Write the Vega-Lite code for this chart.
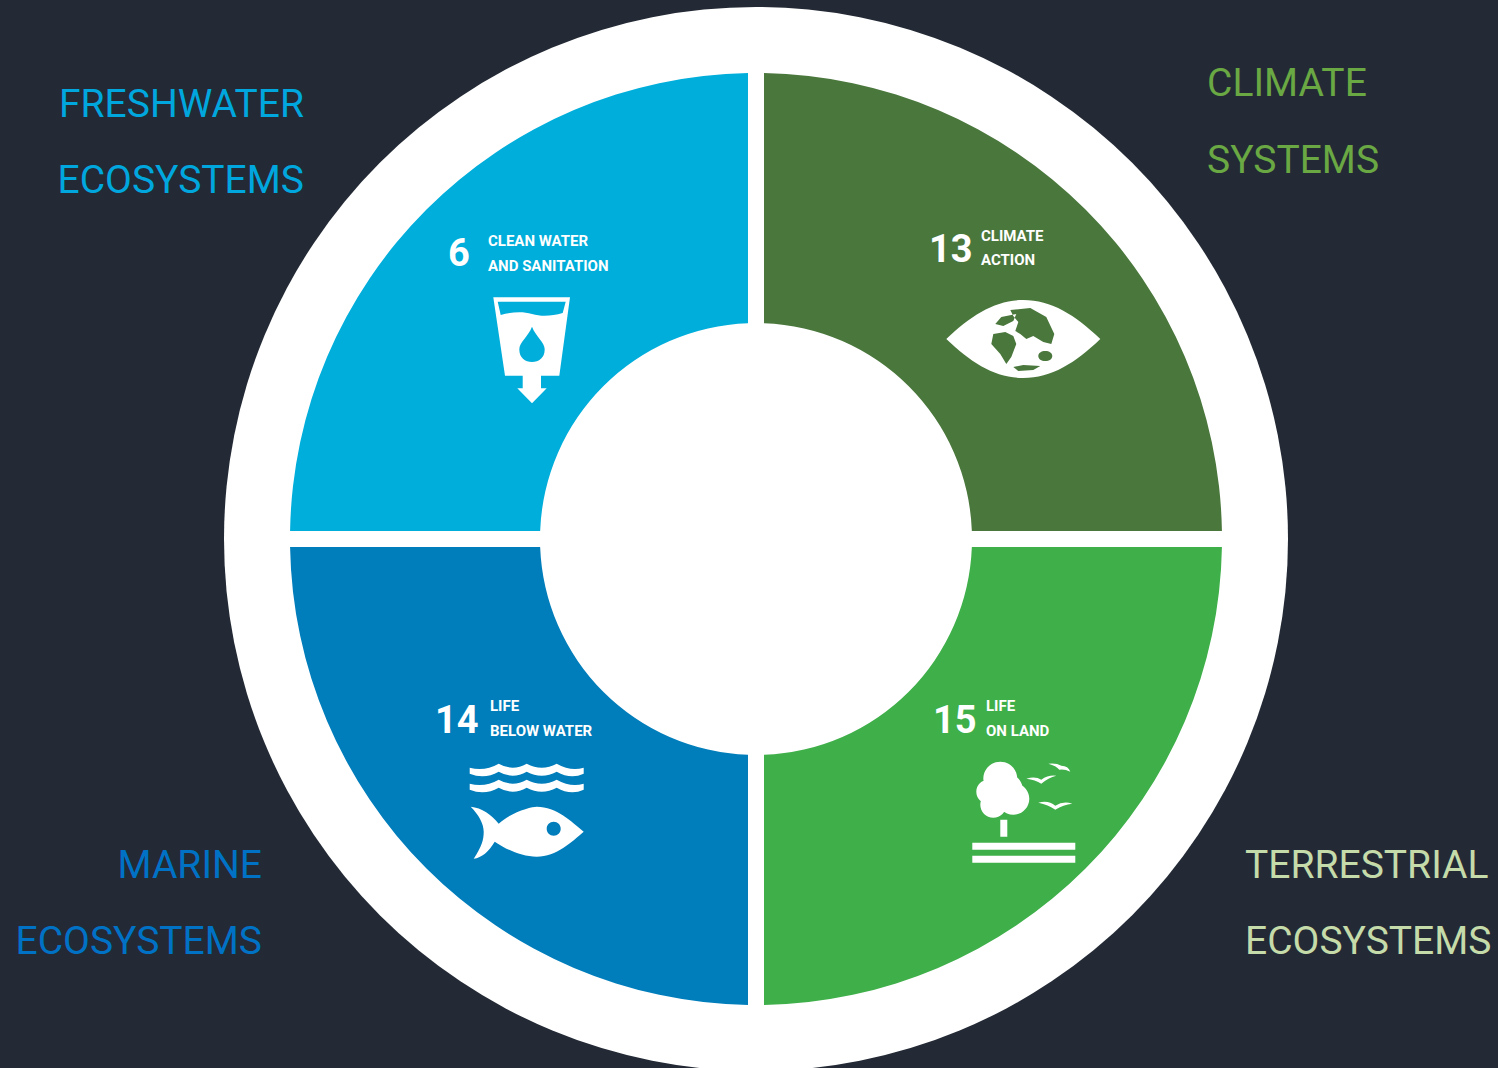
{
"$schema":"https://vega.github.io/schema/vega-lite/v6.json",
"width":1484,"height":1058,"autosize":"none",
"padding":{"left":14,"top":10,"right":0,"bottom":0},
"background":"#232a35",
"config":{"view":{"stroke":null},"axis":{"domain":false,"grid":false,"ticks":false,"labels":false,"title":null}},
"resolve":{"scale":{"color":"independent"}},
"layer":[
{"data":{"values":[{"part":"disc","value":100}]},
 "mark":{"type":"arc","outerRadius":532,"innerRadius":0,"color":"#ffffff"},
 "encoding":{"theta":{"field":"value","type":"quantitative","stack":true}}},
{"data":{"values":[
 {"goal":"Climate systems","rank":1,"value":25},
 {"goal":"Terrestrial ecosystems","rank":2,"value":25},
 {"goal":"Marine ecosystems","rank":3,"value":25},
 {"goal":"Freshwater ecosystems","rank":4,"value":25}]},
 "mark":{"type":"arc","outerRadius":466,"innerRadius":216,"padAngle":0.0312},
 "encoding":{
  "theta":{"field":"value","type":"quantitative","stack":true},
  "order":{"field":"rank","type":"ordinal"},
  "color":{"field":"goal","type":"nominal","legend":null,"scale":{"domain":["Climate systems","Terrestrial ecosystems","Marine ecosystems","Freshwater ecosystems"],"range":["#4a773c","#3eaf49","#007dbb","#00aedb"]}}}},
{"data":{"values":[
 {"icon":"cup","x":532,"y":350},
 {"icon":"eye","x":1023.3,"y":339},
 {"icon":"fish","x":526.7,"y":831.7},
 {"icon":"tree","x":1023.3,"y":811.7}]},
 "mark":{"type":"point","filled":true,"size":4,"opacity":1,"color":"#ffffff","strokeWidth":0},
 "encoding":{
  "x":{"field":"x","type":"quantitative","axis":null,"scale":{"domain":[14,1498],"nice":false,"zero":false}},
  "y":{"field":"y","type":"quantitative","axis":null,"scale":{"domain":[10,1068],"range":[0,1058],"nice":false,"zero":false}},
  "shape":{"field":"icon","type":"nominal","legend":null,"scale":{"domain":["cup","eye","fish","tree"],"range":[
   "M-38.7,-52.7 L38,-52.7 L27.3,25.7 L9,25.7 L9,38.3 L14.7,38.3 L0,53.3 L-14.7,38.3 L-9.3,38.3 L-9.3,25.7 L-27,25.7 Z M-34.3,-48.3 L-31.3,-35 C-20,-38 -10,-39 0,-36 C10,-33 20,-34 30.7,-37 L33.7,-48.3 Z M0,-23.3 C-4,-13 -12.7,-8 -12.7,-0.7 C-12.7,8 -7,12 0,12 C7,12 12.7,8 12.7,-0.7 C12.7,-8 4,-13 0,-23.3 Z",
   "M-77,0 C-52,-24 -28,-39 0,-39 C28,-39 52,-24 77,0 C52,24 28,39 0,39 C-28,39 -52,24 -77,0 Z M-10,-23 L-5,-17 L-8,-8 L-3,-5 L3,0 L10,-3 L20,3 L28,5 L31,-5 L23,-22 L7,-31 L-13,-29 Z M-30,-5 L-32,5 L-23,15 L-17,25 L-12,18 L-7,5 L-10,-3 L-18,-7 Z M-20,-13 L-10,-18 L-7,-25 L-22,-22 L-28,-15 Z M15,17 C15,20 18,22 22,22 C26,22 29,20 29,17 C29,14 26,12 22,12 C18,12 15,14 15,17 Z M-5,32 L10,31 L17,27 L0,26 L-10,28 Z",
   "M-56,-25 C-45,-24 -35,-17 -28,-8 C-15,-20 5,-25 10,-25 C30,-25 45,-10 57,0 C45,10 30,25 10,25 C-5,25 -20,18 -32,10 C-38,20 -45,26 -53,27 C-45,15 -43,8 -43,0 C-43,-8 -48,-17 -56,-25 Z M20,-3 C20,1 23,4 27,4 C31,4 34,1 34,-3 C34,-7 31,-10 27,-10 C23,-10 20,-7 20,-3 Z M-57,-64 Q-42,-60 -28,-68 Q-14,-60 0,-68 Q15,-60 30,-68 Q44,-60 57,-64 L57,-58 Q44,-52 30,-60 Q15,-52 0,-60 Q-14,-52 -28,-60 Q-42,-52 -57,-58 Z M-57,-48 Q-42,-44 -28,-52 Q-14,-44 0,-52 Q15,-44 30,-52 Q44,-44 57,-48 L57,-42 Q44,-36 30,-44 Q15,-36 0,-44 Q-14,-36 -28,-44 Q-42,-36 -57,-42 Z",
   "M-40,-33 A17,17 0 1 1 -6,-33 A17,17 0 1 1 -40,-33 Z M-47,-20 A12,12 0 1 1 -23,-20 A12,12 0 1 1 -47,-20 Z M-26,-13 A16,16 0 1 1 6,-13 A16,16 0 1 1 -26,-13 Z M-43,-7 A13,13 0 1 1 -17,-7 A13,13 0 1 1 -43,-7 Z M-40,-20 A20,20 0 1 1 0,-20 A20,20 0 1 1 -40,-20 Z M-23,8 L-16,8 L-16,25 L-23,25 Z M-51,31 L52,31 L52,38 L-51,38 Z M-51,44 L52,44 L52,51 L-51,51 Z M3,-33 Q12,-36 18,-32 Q25,-37 33,-36 Q25,-34 18,-28 Q12,-32 3,-33 Z M15,-9 Q25,-12 32,-6 Q40,-11 49,-8 Q40,-7 32,-2 Q25,-7 15,-9 Z M25,-48 Q33,-49 38,-46 Q45,-46 47,-40 Q41,-43 36,-42 Q33,-46 25,-48 Z"
  ]}}}},
{"data":{"values":[
 {"t":"FRESHWATER","x":304,"y":117,"g":"Freshwater"},
 {"t":"ECOSYSTEMS","x":304,"y":193,"g":"Freshwater"},
 {"t":"MARINE","x":262,"y":878,"g":"Marine"},
 {"t":"ECOSYSTEMS","x":262,"y":954,"g":"Marine"}]},
 "mark":{"type":"text","align":"right","baseline":"alphabetic","font":"Roboto","fontSize":39},
 "encoding":{
  "x":{"field":"x","type":"quantitative","axis":null},"y":{"field":"y","type":"quantitative","axis":null},
  "text":{"field":"t"},
  "color":{"field":"g","type":"nominal","legend":null,"scale":{"domain":["Freshwater","Marine"],"range":["#00a7de","#0072c6"]}}}},
{"data":{"values":[
 {"t":"CLIMATE","x":1207,"y":96,"g":"Climate"},
 {"t":"SYSTEMS","x":1207,"y":173,"g":"Climate"},
 {"t":"TERRESTRIAL","x":1245,"y":878,"g":"Terrestrial"},
 {"t":"ECOSYSTEMS","x":1245,"y":954,"g":"Terrestrial"}]},
 "mark":{"type":"text","align":"left","baseline":"alphabetic","font":"Roboto","fontSize":39},
 "encoding":{
  "x":{"field":"x","type":"quantitative","axis":null},"y":{"field":"y","type":"quantitative","axis":null},
  "text":{"field":"t"},
  "color":{"field":"g","type":"nominal","legend":null,"scale":{"domain":["Climate","Terrestrial"],"range":["#6aa844","#c5dba9"]}}}},
{"data":{"values":[
 {"t":"CLEAN WATER","x":488,"y":246},{"t":"AND SANITATION","x":488,"y":271},
 {"t":"CLIMATE","x":981,"y":241},{"t":"ACTION","x":981,"y":265},
 {"t":"LIFE","x":490,"y":711},{"t":"BELOW WATER","x":490,"y":736},
 {"t":"LIFE","x":986,"y":711},{"t":"ON LAND","x":986,"y":736}]},
 "mark":{"type":"text","align":"left","baseline":"alphabetic","font":"Roboto","fontWeight":"bold","fontSize":15,"color":"#ffffff"},
 "encoding":{
  "x":{"field":"x","type":"quantitative","axis":null},"y":{"field":"y","type":"quantitative","axis":null},
  "text":{"field":"t"}}},
{"data":{"values":[
 {"t":"6","x":448,"y":266},{"t":"13","x":929,"y":262},{"t":"14","x":435,"y":733},{"t":"15","x":933,"y":733}]},
 "mark":{"type":"text","align":"left","baseline":"alphabetic","font":"Roboto","fontWeight":"bold","fontSize":38,"color":"#ffffff"},
 "encoding":{
  "x":{"field":"x","type":"quantitative","axis":null},"y":{"field":"y","type":"quantitative","axis":null},
  "text":{"field":"t"}}}
]
}
